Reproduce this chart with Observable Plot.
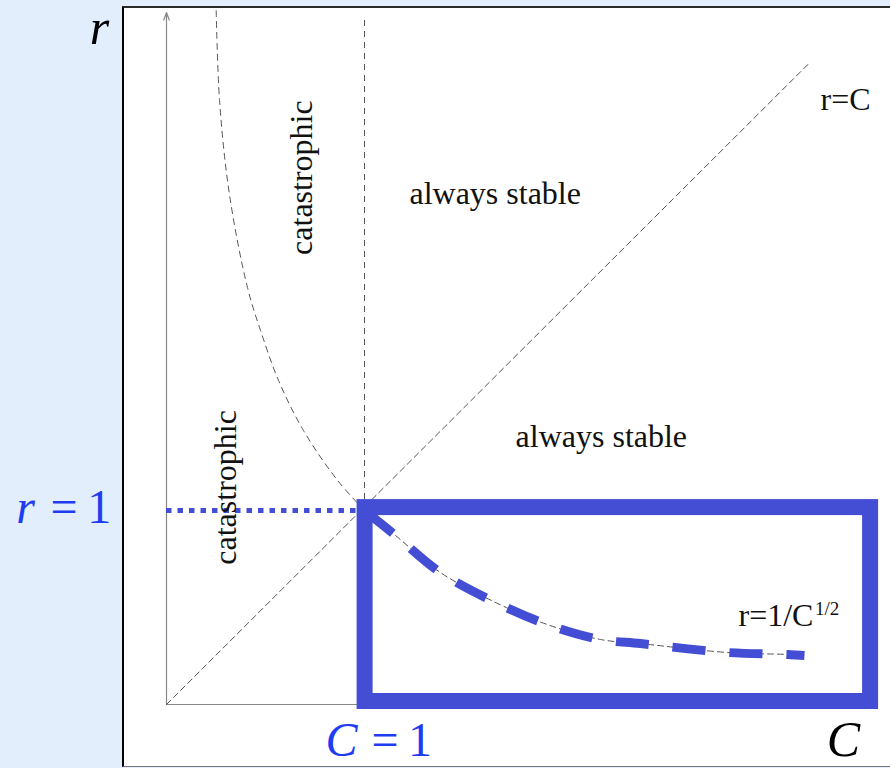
<!DOCTYPE html>
<html><head><meta charset="utf-8">
<script src="https://cdn.jsdelivr.net/npm/d3@7"></script>
<script src="https://cdn.jsdelivr.net/npm/@observablehq/plot@0.6"></script>
<style>
html,body{margin:0;padding:0;background:#e2eefb;}
#wrap{position:relative;width:890px;height:768px;overflow:hidden;}
#box{position:absolute;left:122px;top:6px;width:800px;height:758px;background:#fff;border-left:2px solid #000;border-top:2px solid #2a2a2a;border-bottom:1px solid #777;}
#chart{position:absolute;left:0;top:0;}
#chart svg{background:transparent;overflow:visible;font-family:'Liberation Serif','Times New Roman',serif;}
</style></head><body>
<div id="wrap"><div id="box"></div><div id="chart"></div></div>
<script>
// ---- data (C, r units) ----
const catastrophicC = [0.251, 0.268, 0.318, 0.409, 0.475, 0.566, 0.692, 0.864, 1.0];
const catastrophicR = [3.577, 3.113, 2.629, 2.149, 1.928, 1.670, 1.412, 1.155, 1.0];
const stableC = [1.0, 1.157, 1.384, 1.672, 1.924, 2.192, 2.394, 2.833, 3.136, 3.222];
const stableR = [1.0, 0.871, 0.680, 0.521, 0.412, 0.335, 0.314, 0.268, 0.258, 0.253];
const diagonalC = [0, 3.24];
const diagonalR = [0, 3.30];
const criticalC = 1;          // C = 1
const criticalR = 1;          // r = 1
const criticalTop = 3.526;    // top of the C = 1 dashed line
const axisTopR = 3.567;       // y-axis arrow tip
const rectC = [1.003, 3.556]; // highlighted region
const rectR = [0.0155, 1.015];

// labels
const regionLabels = ["always stable", "always stable"];
const regionC = [1.227, 1.763];
const regionR = [2.582, 1.325];
const catLabels = ["catastrophic", "catastrophic"];
const catC = [0.682, 0.298];
const catR = [2.716, 1.119];

const blue = "#444ed4";
const textBlue = "#1e3df2";
const gray = "#555";
const serif = "'Liberation Serif', 'Times New Roman', serif";

const pts = (xs, ys) => xs.map((c, i) => ({C: c, r: ys[i]}));

const chart = Plot.plot({
  width: 890,
  height: 768,
  margin: 0,
  style: {fontFamily: serif, background: "transparent", overflow: "visible"},
  x: {domain: [0, 1], range: [166, 364], axis: null},
  y: {domain: [0, 1], range: [704, 510], axis: null},
  marks: [
    // axes
    Plot.ruleY([0], {x1: 0, x2: rectC[0], stroke: "#888", strokeWidth: 1.2}),
    Plot.arrow([{x1: 0, y1: 0, x2: 0, y2: axisTopR}], {x1: "x1", y1: "y1", x2: "x2", y2: "y2", stroke: "#888", strokeWidth: 1.2, headLength: 10, headAngle: 40}),
    // dashed guides
    Plot.ruleX([criticalC], {y1: criticalR, y2: criticalTop, stroke: gray, strokeWidth: 1, strokeDasharray: "6,5"}),
    Plot.line(pts(diagonalC, diagonalR), {x: "C", y: "r", stroke: gray, strokeWidth: 1, strokeDasharray: "6,4"}),
    Plot.line(pts(catastrophicC, catastrophicR), {x: "C", y: "r", curve: "catmull-rom", stroke: gray, strokeWidth: 1, strokeDasharray: "6,5"}),
    Plot.line(pts(stableC, stableR), {x: "C", y: "r", curve: "catmull-rom", stroke: gray, strokeWidth: 1, strokeDasharray: "6,4"}),
    // blue overlays
    Plot.line(pts(stableC, stableR), {x: "C", y: "r", curve: "catmull-rom", stroke: blue, strokeWidth: 9, strokeDasharray: "33,24", strokeDashoffset: 54, strokeLinecap: "butt"}),
    Plot.ruleY([criticalR], {x1: 0, x2: rectC[0] - 0.04, stroke: blue, strokeWidth: 5, strokeDasharray: "5.5,6"}),
    Plot.rect([{}], {x1: rectC[0], x2: rectC[1], y1: rectR[0], y2: rectR[1], fill: "none", stroke: blue, strokeWidth: 16}),
    // region labels
    Plot.text(pts(regionC, regionR).map((d, i) => ({...d, t: regionLabels[i]})), {x: "C", y: "r", text: "t", textAnchor: "start", lineAnchor: "bottom", fontSize: 32, fontFamily: serif, fill: "#111"}),
    Plot.text(pts(catC, catR).map((d, i) => ({...d, t: catLabels[i]})), {x: "C", y: "r", text: "t", rotate: -90, textAnchor: "middle", lineAnchor: "middle", fontSize: 32, fontFamily: serif, fill: "#111"}),
    Plot.text([{C: 3.303, r: 3.062, t: "r=C"}], {x: "C", y: "r", text: "t", textAnchor: "start", lineAnchor: "bottom", fontSize: 32, fontFamily: serif, fill: "#111"}),
    Plot.text([{C: 2.889, r: 0.407, t: "r=1/C"}], {x: "C", y: "r", text: "t", textAnchor: "start", lineAnchor: "bottom", fontSize: 32, fontFamily: serif, fill: "#111"}),
    Plot.text([{C: 3.275, r: 0.459, t: "1/2"}], {x: "C", y: "r", text: "t", textAnchor: "start", lineAnchor: "bottom", fontSize: 19, fontFamily: serif, fill: "#111"}),
    // axis names
    Plot.text([{C: -0.338, r: 3.407, t: "r"}, {C: 3.419, r: -0.268, t: "C"}], {x: "C", y: "r", text: "t", textAnchor: "middle", lineAnchor: "bottom", fontSize: 50, fontStyle: "italic", fontFamily: serif, fill: "#000"}),
    // r = 1 and C = 1 labels
    Plot.text([{C: -0.712, r: 0.933, t: "r"}, {C: 0.884, r: -0.263, t: "C"}], {x: "C", y: "r", text: "t", textAnchor: "middle", lineAnchor: "bottom", fontSize: 48, fontStyle: "italic", fontFamily: serif, fill: textBlue}),
    Plot.text([{C: -0.586, r: 0.933, t: "=\u20091"}, {C: 1.035, r: -0.263, t: "=\u20091"}], {x: "C", y: "r", text: "t", textAnchor: "start", lineAnchor: "bottom", fontSize: 48, fontFamily: serif, fill: textBlue})
  ]
});
document.getElementById("chart").appendChild(chart);
</script>
</body></html>
